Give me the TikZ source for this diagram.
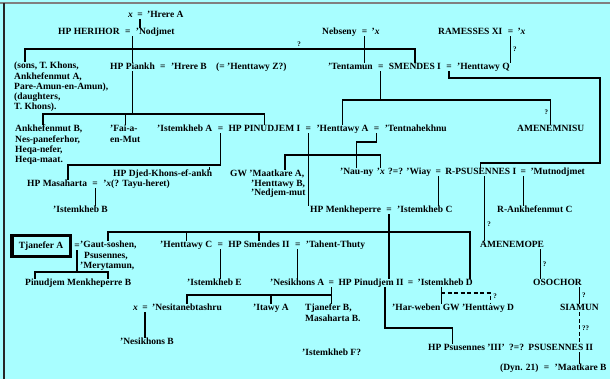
\documentclass[tikz,border=0pt]{standalone}
\usepackage{fontspec}
\setmainfont{Liberation Serif}
\usetikzlibrary{positioning}
\definecolor{chartbg}{RGB}{168,254,255}
\newcommand{\pfont}{\fontsize{9.5}{10.3}\selectfont\bfseries}
\newcommand{\qfont}{\fontsize{7}{8}\selectfont\bfseries}

\begin{document}
\begin{tikzpicture}[
  x=1pt, y=-1pt,
  pers/.style={font=\pfont, inner sep=0pt, anchor=west, text height=6.6pt, text depth=1.6pt},
  persm/.style={font=\pfont, inner sep=0pt, anchor=north west, align=left},
  qm/.style={font=\qfont, inner sep=0pt},
  conn/.style={line width=1.3pt},
  unsure/.style={conn, dash pattern=on 4pt off 2.5pt},
]
\useasboundingbox (0,0) rectangle (610,379);
\fill[chartbg] (0,0) rectangle (610,379);
\draw[gray, line width=2.5pt] (0,3) -- (610,3);
\draw[black!85, line width=2pt] (4,3) -- (4,379);

% row 1 and 2
\node[pers] (xtop) at (128,15) {\textit{x}};
\node[pers, right=4pt of xtop] (eqtop) {=};
\node[pers, right=4pt of eqtop] (hrereA) {'Hrere A};
\node[pers] (herihor) at (58,32) {HP HERIHOR};
\node[pers, right=5pt of herihor] (eqH) {=};
\node[pers, right=5pt of eqH] (nodjmet) {'Nodjmet};
\node[pers] (nebseny) at (322,32) {Nebseny};
\node[pers, right=5pt of nebseny] (eqN) {=};
\node[pers, right=4pt of eqN] (nebx) {'\textit{x}};
\node[pers] (ramesses) at (438,32) {RAMESSES XI};
\node[pers, right=5pt of ramesses] (eqR) {=};
\node[pers, right=4pt of eqR] (ramx) {'\textit{x}};

% row 3
\node[persm] (sons) at (14,62) {(sons, T. Khons,\\Ankhefenmut A,\\Pare-Amun-en-Amun),\\(daughters,\\T. Khons).};
\node[pers] (piankh) at (110,67) {HP Piankh};
\node[pers, right=5pt of piankh] (eqPk) {=};
\node[pers, right=5pt of eqPk] (hrereB) {'Hrere B};
\node[pers, right=9pt of hrereB] (henttawyZ) {(= 'Henttawy Z?)};
\node[pers] (tentamun) at (328,67) {'Tentamun};
\node[pers, right=5pt of tentamun] (eqT) {=};
\node[pers, right=5pt of eqT] (smendes) {SMENDES I};
\node[pers, right=5pt of smendes] (eqQ) {=};
\node[pers, right=5pt of eqQ] (henttawyQ) {'Henttawy Q};

% row 4
\node[persm] (ankhB) at (15,125) {Ankhefenmut B,\\Nes-paneferhor,\\Heqa-nefer,\\Heqa-maat.};
\node[persm] (fai) at (110,125) {'Fai-a-\\en-Mut};
\node[pers] (istemkhebA) at (157,129) {'Istemkheb A};
\node[pers, right=5pt of istemkhebA] (eqIA) {=};
\node[pers, right=5pt of eqIA] (pinudjemI) {HP PINUDJEM I};
\node[pers, right=5pt of pinudjemI] (eqP) {=};
\node[pers, right=5pt of eqP] (henttawyA) {'Henttawy A};
\node[pers, right=5pt of henttawyA] (eqTn) {=};
\node[pers, right=5pt of eqTn] (tentnahekhnu) {'Tentnahekhnu};
\node[pers] (amenemnisu) at (517,129) {AMENEMNISU};

% row 5
\node[pers] (djed) at (113,174) {HP Djed-Khons-ef-ankh};
\node[persm] (maatkareA) at (230,170) {GW 'Maatkare A,\\[-1pt]\hspace*{21pt}'Henttawy B,\\[-1pt]\hspace*{21pt}'Nedjem-mut};
\node[pers] (nauny) at (340,172) {'Nau-ny};
\node[pers, right=3pt of nauny] (nx) {'\textit{x}};
\node[pers, right=3pt of nx] (qeq) {?=?};
\node[pers, right=3pt of qeq] (wiay) {'Wiay};
\node[pers, right=4pt of wiay] (eqW) {=};
\node[pers, right=4pt of eqW] (psusennesI) {R-PSUSENNES I};
\node[pers, right=4pt of psusennesI] (eqMu) {=};
\node[pers, right=4pt of eqMu] (mutnodjmet) {'Mutnodjmet};
\node[pers] (masaharta) at (27,184) {HP Masaharta};
\node[pers, right=5pt of masaharta] (eqM) {=};
\node[pers, right=5pt of eqM] (tayu) {'\textit{x}(? Tayu-heret)};

% row 6
\node[pers] (istemkhebB) at (53,210) {'Istemkheb B};
\node[pers] (menkheperre) at (310,210) {HP Menkheperre};
\node[pers, right=5pt of menkheperre] (eqMk) {=};
\node[pers, right=5pt of eqMk] (istemkhebC) {'Istemkheb C};
\node[pers] (ankhC) at (497,210) {R-Ankhefenmut C};

% row 7
\node[pers, draw, line width=3.5pt, inner xsep=7pt, inner ysep=6.5pt] (tjaneferA) at (10,246) {Tjanefer A};
\node[pers, right=2pt of tjaneferA] (eqTj) {=};
\node[persm] (gaut) at (80,241) {'Gaut-soshen,\\\hspace*{4pt}Psusennes,\\'Merytamun,};
\node[pers] (henttawyC) at (160,245) {'Henttawy C};
\node[pers, right=5pt of henttawyC] (eqHC) {=};
\node[pers, right=5pt of eqHC] (smendesII) {HP Smendes II};
\node[pers, right=5pt of smendesII] (eqS2) {=};
\node[pers, right=5pt of eqS2] (tahent) {'Tahent-Thuty};
\node[pers] (amenemope) at (480,245) {AMENEMOPE};

% row 8
\node[pers] (pmB) at (25,283) {Pinudjem Menkheperre B};
\node[pers] (istemkhebE) at (187,283) {'Istemkheb E};
\node[pers] (nesikhonsA) at (270,283) {'Nesikhons A};
\node[pers, right=4pt of nesikhonsA] (eqNA) {=};
\node[pers, right=4pt of eqNA] (pinudjemII) {HP Pinudjem II};
\node[pers, right=4pt of pinudjemII] (eqD) {=};
\node[pers, right=4pt of eqD] (istemkhebD) {'Istemkheb D};
\node[pers] (osochor) at (533,283) {OSOCHOR};

% row 9 and below
\node[pers] (xn) at (133,308) {\textit{x}};
\node[pers, right=4pt of xn] (eqXn) {=};
\node[pers, right=4pt of eqXn] (nesitaneb) {'Nesitanebtashru};
\node[pers] (itawy) at (253,308) {'Itawy A};
\node[persm] (tjanB) at (305,304) {Tjanefer B,\\Masaharta B.};
\node[pers] (harweben) at (392,308) {'Har-weben GW 'Henttawy D};
\node[pers] (siamun) at (560,308) {SIAMUN};
\node[pers] (nesikhonsB) at (120,342) {'Nesikhons B};
\node[pers] (istemkhebF) at (302,353) {'Istemkheb F?};
\node[pers] (psIII) at (428,348) {HP Psusennes 'III'};
\node[pers, right=4pt of psIII] (qeq2) {?=?};
\node[pers, right=4pt of qeq2] (psusennesII) {PSUSENNES II};
\node[pers] (dyn) at (500,368) {(Dyn. 21)};
\node[pers, right=5pt of dyn] (eqDyn) {=};
\node[pers, right=5pt of eqDyn] (maatkareB) {'Maatkare B};

% Herihor and Smendes
\draw[conn] (eqtop.south) -- (eqtop.south |- herihor.north);
\draw[conn] (piankh.north |- herihor.south) -- (piankh.north);
\draw[conn] (sons.north -| 25,0) |- (smendes.north |- 0,49) -- (smendes.north);
\node[qm] (qHer) at (299,44) {?};
\draw[conn] (eqN.south) -- (eqN.south |- tentamun.north);
\draw[conn] (eqR.south) -- (eqR.south |- henttawyQ.north) node[qm, midway, right=2pt] {?};

% Piankh
\draw[conn] (piankh.south) -- (piankh.south |- 0,114);
\draw[conn] (ankhB.north -| 43,0) |- (pinudjemI.north |- 0,114) -- (pinudjemI.north);
\draw[conn] (fai.north) -- (fai.north |- 0,114);

% Smendes I
\draw[conn] (eqT.south) -- (eqT.south |- 0,100);
\draw[conn] (henttawyA.north) |- (amenemnisu.north |- 0,100) -- (amenemnisu.north) node[qm, midway, left=2pt] {?};
\draw[conn] (eqQ.south) |- (600,78) |- (psusennesI.north |- 0,163) -- (psusennesI.north);

% Istemkheb A and Pinudjem I
\draw[conn] (eqIA.south) |- (68,165) -- (masaharta.north -| 68,0);
\draw[conn] ([xshift=-3pt]djed.north east) -- +(0,-3);
\draw[conn] (eqM.south) -- (eqM.south |- istemkhebB.north);
\draw[conn] (eqP.south) -- (eqP.south |- menkheperre.north);
\draw[conn] (eqTn.south) |- (nauny.north |- 0,142) -- (nauny.north);
\draw[conn] (maatkareA.north -| 285,0) |- (nx.north |- 0,155) -- (nx.north);

% Psusennes I
\draw[conn] (eqW.south) -- (eqW.south |- istemkhebC.north);
\draw[conn] (eqMu.south) -- (eqMu.south |- ankhC.north);
\coordinate (psdown) at ([xshift=4pt]psusennesI.south);
\draw[conn] (psdown) -- (psdown |- amenemope.north) node[qm, pos=.75, right=2pt] {?};

% Menkheperre
\draw[conn] (eqMk.south) -- (eqMk.south |- pinudjemII.north);
\coordinate (dtick) at ([xshift=-3pt]istemkhebD.north east);
\draw[conn] (gaut.north -| 108,0) |- (dtick |- 0,232) -- (dtick);
\draw[conn] (henttawyC.north) -- (henttawyC.north |- 0,232);
\draw[conn] (smendesII.north) -- (smendesII.north |- 0,232);

% Tjanefer A, Henttawy C, Smendes II
\draw[conn] (eqTj.south) -- (eqTj.south |- 0,272);
\draw[conn] (pmB.north -| 35,0) |- (108,272) -- (pmB.north -| 108,0);
\draw[conn] (eqHC.south) -- (eqHC.south |- istemkhebE.north);
\draw[conn] (eqS2.south) -- (eqS2.south |- nesikhonsA.north);

% Nesikhons A and Pinudjem II
\draw[conn] (eqNA.south) -- (eqNA.south |- tjanB.north);
\draw[conn] (nesitaneb.north) |- (eqNA.south |- 0,295);
\draw[conn] (itawy.north) -- (itawy.north |- 0,295);
\coordinate (p2down) at ([xshift=14pt]pinudjemII.south);
\coordinate (p3tick) at ([xshift=-14pt]psIII.north);
\draw[conn] (p2down) |- (p3tick |- 0,328) -- (p3tick);
\coordinate (dmid) at ([xshift=-4pt]istemkhebD.south);
\draw[conn] (dmid) -- (dmid |- harweben.north);
\coordinate (hdtick) at ([xshift=-24pt]harweben.north east);
\draw[unsure] (dmid |- 0,293) -| (hdtick);
\node[qm, anchor=west] (qHd) at ([xshift=3pt]hdtick |- 0,296) {?};
\draw[conn] (eqXn.south) -- (eqXn.south |- nesikhonsB.north);

% Tanis kings
\coordinate (amdown) at ([xshift=-4pt]amenemope.south east);
\draw[conn] (amdown) -- (amdown |- osochor.north) node[qm, midway, right=2pt] {?};
\draw[conn] (siamun.north |- osochor.south) -- (siamun.north) node[qm, midway, right=2pt] {?};
\draw[unsure] (siamun.south) -- (siamun.south |- psusennesII.north) node[qm, midway, right=2pt] {??};
\draw[conn] (siamun.south |- psusennesII.south) -- (siamun.south |- maatkareB.north);
\end{tikzpicture}
\end{document}
